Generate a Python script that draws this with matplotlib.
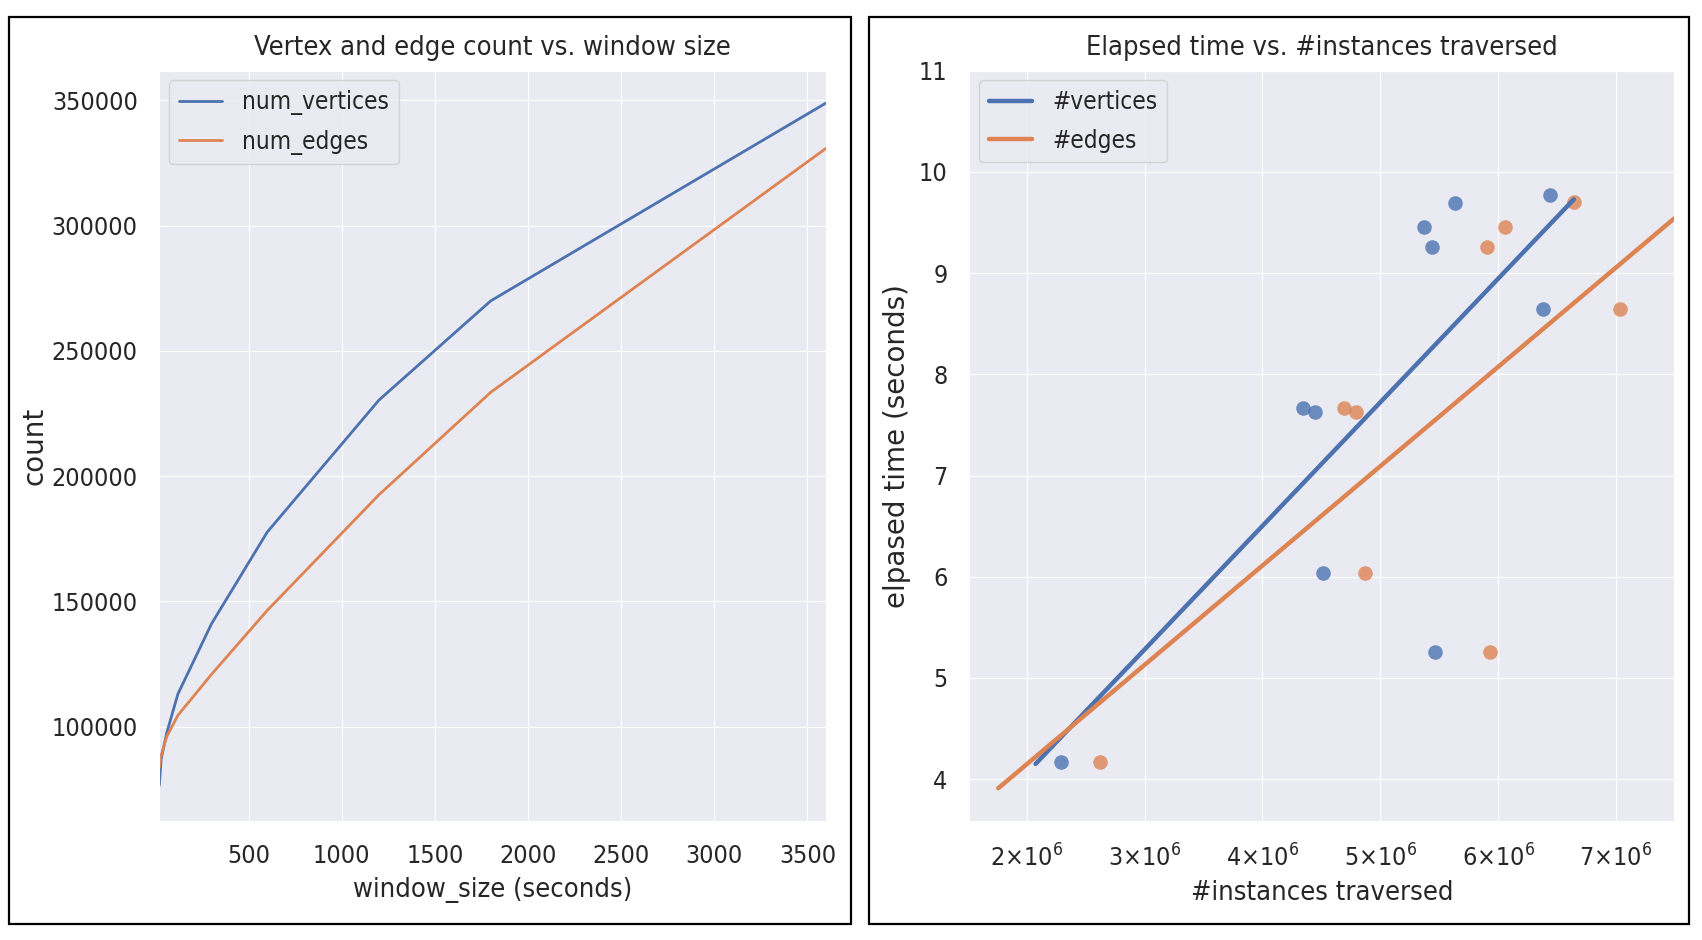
import numpy as np
import matplotlib
matplotlib.use("Agg")
import matplotlib.pyplot as plt
import seaborn as sns
from matplotlib.patches import Rectangle
from matplotlib.ticker import FuncFormatter

# left panel: graph size vs window size
window_size = [20, 30, 60, 120, 300, 600, 1200, 1800, 3600]
num_vertices = [76400, 87000, 97500, 113000, 141000, 177700, 230400, 270000, 349000]
num_edges = [83700, 88500, 96000, 104500, 120800, 146400, 192600, 233500, 330900]

# right panel: elapsed time vs instances traversed
elapsed = [4.166, 5.26, 6.033, 7.668, 7.632, 8.646, 9.256, 9.459, 9.695, 9.774]
inst_vertices = [2.288e6, 5.464e6, 4.514e6, 4.347e6, 4.446e6, 6.385e6, 5.439e6, 5.368e6, 5.632e6, 6.438e6]
elapsed_e = [4.166, 5.26, 6.033, 7.668, 7.632, 8.646, 9.256, 9.456, 9.699]
inst_edges = [2.623e6, 5.928e6, 4.869e6, 4.694e6, 4.793e6, 7.034e6, 5.904e6, 6.06e6, 6.643e6]

# fitted lines as drawn (x endpoints, y endpoints)
fit_v_x = [2.075e6, 6.643e6]
fit_v_y = [4.151, 9.730]
fit_e_x = [1.759e6, 7.495e6]
fit_e_y = [3.911, 9.541]

BLUE = "#4C72B0"
ORANGE = "#DD8452"

sns.set_style("darkgrid")
plt.rcParams["font.family"] = ["DejaVu Sans"]
plt.rcParams["font.stretch"] = "condensed"
plt.rcParams["text.color"] = ".15"
plt.rcParams["axes.labelcolor"] = ".15"
plt.rcParams["xtick.color"] = ".15"
plt.rcParams["ytick.color"] = ".15"

W, H = 1702, 940
fig = plt.figure(figsize=(W / 100, H / 100), dpi=100)

# the two framed panels
for x0, x1 in [(8.5, 851), (869, 1689)]:
    fig.patches.append(Rectangle((x0 / W, 1 - 923.5 / H), (x1 - x0) / W, (923.5 - 16.5) / H,
                                 transform=fig.transFigure, fill=False, ec="black", lw=1.6))

TICK = 18
LABEL = 19.5
TITLE = 19.5
LEG = 17.5


def sci(v, p):
    return r"$\mathdefault{%d{\times}10^{6}}$" % round(v / 1e6)


ax1 = fig.add_axes([159.3 / W, 1 - 820.7 / H, 666.7 / W, 750 / H])
ax1.plot(window_size, num_vertices, color=BLUE, lw=2, label="num_vertices")
ax1.plot(window_size, num_edges, color=ORANGE, lw=2, label="num_edges")
ax1.set_xlim(20, 3600)
ax1.set_ylim(62400, 361900)
ax1.set_xticks(range(500, 3501, 500))
ax1.set_yticks(range(100000, 350001, 50000))
ax1.tick_params(axis="x", labelsize=TICK, pad=13.5)
ax1.tick_params(axis="y", labelsize=TICK, pad=12)
ax1.set_xlabel("window_size (seconds)", fontsize=LABEL, labelpad=6)
ax1.set_ylabel("count", fontsize=20, fontstretch="normal", labelpad=2)
ax1.set_title("Vertex and edge count vs. window size", fontsize=TITLE, pad=11)
ax1.legend(loc="upper left", fontsize=LEG, handlelength=1.8, borderaxespad=0.4, labelspacing=0.6)

ax2 = fig.add_axes([969.3 / W, 1 - 820.7 / H, 705 / W, 750 / H])
ax2.scatter(inst_vertices, elapsed, s=110, color=BLUE, alpha=0.8, linewidths=0, zorder=2)
ax2.scatter(inst_edges, elapsed_e, s=110, color=ORANGE, alpha=0.8, linewidths=0, zorder=2)
ax2.plot(fit_v_x, fit_v_y, color=BLUE, lw=3.2, label="#vertices", zorder=3)
ax2.plot(fit_e_x, fit_e_y, color=ORANGE, lw=3.2, label="#edges", zorder=4)
ax2.set_xlim(1.513e6, 7.495e6)
ax2.set_ylim(3.59, 11.0)
ax2.set_xticks([2e6, 3e6, 4e6, 5e6, 6e6, 7e6])
ax2.set_yticks(range(4, 12))
ax2.xaxis.set_major_formatter(FuncFormatter(sci))
ax2.tick_params(axis="x", labelsize=TICK, pad=13.5)
ax2.tick_params(axis="y", labelsize=TICK, pad=12)
ax2.set_xlabel("#instances traversed", fontsize=LABEL, labelpad=6)
ax2.set_ylabel("elpased time (seconds)", fontsize=20, fontstretch="normal", labelpad=6)
ax2.set_title("Elapsed time vs. #instances traversed", fontsize=TITLE, pad=11)
ax2.legend(loc="upper left", fontsize=LEG, handlelength=1.8, borderaxespad=0.4, labelspacing=0.6)

fig.savefig("out.png", dpi=100)
